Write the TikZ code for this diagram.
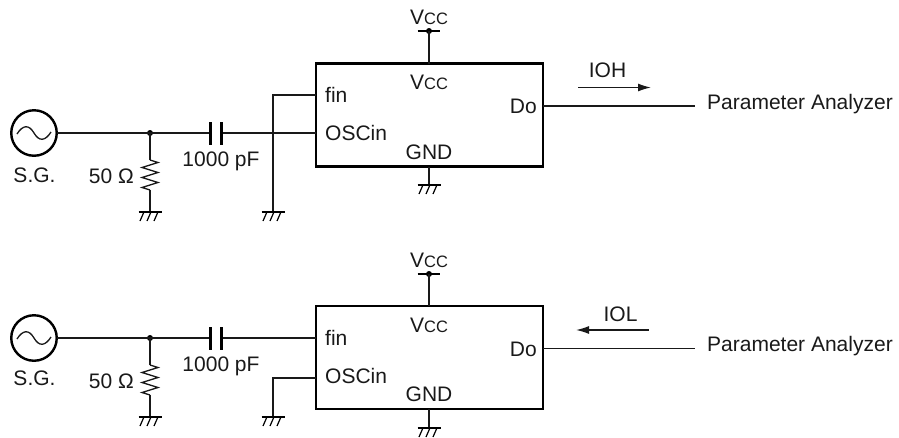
\documentclass[tikz,border=0pt]{standalone}
\usepackage{fontspec}
\setmainfont{Liberation Sans}
\usetikzlibrary{arrows.meta}
\tikzset{
  wire/.style={line width=1.3pt,black!90},
  chip/.style={draw,line width=2.4pt,minimum width=227pt,minimum height=103pt,inner sep=0pt,outer sep=0pt},
  source/.style={circle,draw,line width=2.4pt,minimum size=45.5pt,inner sep=0pt,outer sep=0pt},
  dotj/.style={circle,fill,minimum size=6pt,inner sep=0pt},
  lbl/.style={font=\fontsize{21}{21}\selectfont,inner sep=0pt,text=black!90},
  flow/.style={wire,-{Latex[length=13pt,width=8pt]}},
  plate/.style={line width=2.4pt},
}
\newcommand{\vccText}{V{\fontsize{16.5}{16.5}\selectfont CC}}
\newcommand{\gndsym}[1]{%
  \draw[line width=2pt] ([xshift=-11.5pt]#1) -- ([xshift=11.5pt]#1);
  \foreach \dx in {-6.5,0.5,7.5}
    \draw[line width=1.2pt] ([xshift=\dx pt,yshift=-1pt]#1) -- ([xshift={\dx pt-3.5pt},yshift=-9pt]#1);
}
\newcommand{\resistor}[2]{%
  \draw[wire,line join=miter] (#1) -- ++(8,-2.5) -- ++(-16,-5) -- ++(16,-5) -- ++(-16,-5) -- ++(16,-5) -- ++(-16,-5) -- ++(8,-2.5) -- (#2);
}
\newcommand{\wave}[1]{%
  \draw[wire] ([xshift=-17pt,yshift=-1pt]#1) .. controls ([xshift=-11pt,yshift=8.5pt]#1) and ([xshift=-5pt,yshift=8.5pt]#1) .. (#1)
     .. controls ([xshift=5pt,yshift=-8.5pt]#1) and ([xshift=11pt,yshift=-8.5pt]#1) .. ([xshift=17pt,yshift=1pt]#1);
}
\begin{document}
\begin{tikzpicture}[x=1pt,y=1pt]
\useasboundingbox (0,0) rectangle (899,-437);
% ---------- top ----------
\node[source] (sgA) at (34,-133) {};
\wave{sgA.center}
\node[lbl] (sgAl) at (34.5,-175.5) {S.G.};
\coordinate (jA) at (150,-133);
\node[dotj] (jAd) at (jA) {};
\coordinate (c1A) at (210.5,-133);
\coordinate (c2A) at (221.5,-133);
\node[chip,anchor=north west] (chipA) at (316,-63.5) {};
\coordinate (finA) at (316,-95);
\coordinate (oscA) at (316,-133);
\coordinate (doA) at (543,-106);
\coordinate (endA) at (695,-106);
\draw[wire] (sgA) -- (jA) -- (c1A);
\draw[wire] (c2A) -- (oscA);
\draw[plate] (210.5,-122) -- (210.5,-145);
\draw[plate] (221.5,-122) -- (221.5,-145);
\coordinate (r1A) at (150,-160);
\coordinate (r2A) at (150,-190);
\coordinate (gA) at (150,-212);
\draw[wire] (jA) -- (r1A);
\resistor{r1A}{r2A}
\draw[wire] (r2A) -- (gA);
\gndsym{gA}
\coordinate (g2A) at (273,-212);
\draw[wire] (finA) -- (273,-95) -- (g2A);
\gndsym{g2A}
\node[lbl] at (221,-161) (capAl) {1000 pF};
\node[lbl,anchor=east] (rAl) at (134,-176.5) {50 \char"03A9};
\node[lbl,anchor=west] (finAl) at (325,-95) {fin};
\node[lbl,anchor=west] (oscAl) at (325,-132.5) {OSCin};
\node[lbl,anchor=east] (doAl) at (537,-106) {Do};
\node[lbl] (gndAl) at (429,-152) {GND};
\node[lbl] (vccAin) at (429,-82) {\vccText};
\node[lbl] (vccAout) at (429,-17) {\vccText};
\coordinate (vA) at (429,-31);
\draw[line width=2pt] (417.5,-31) -- (439.5,-31);
\node[dotj] (vAd) at (vA) {};
\draw[wire] (vA) -- (chipA.north -| vA);
\coordinate (g3A) at (429,-185);
\draw[wire] (chipA.south -| g3A) -- (g3A);
\gndsym{g3A}
\draw[wire] (doA) -- (endA);
\node[lbl,anchor=west] (paA) at (707,-104) {Parameter Analyzer};
\node[lbl] (ioh) at (607.5,-70.5) {IOH};
\coordinate (a1) at (578,-87.5);
\coordinate (a2) at (651,-87.5);
\draw[flow] (a1) -- (a2);
% ---------- bottom ----------
\node[source] (sgB) at (34,-338) {};
\wave{sgB.center}
\node[lbl] (sgBl) at (34.5,-378) {S.G.};
\coordinate (jB) at (150,-338);
\node[dotj] (jBd) at (jB) {};
\coordinate (c1B) at (210.5,-338);
\coordinate (c2B) at (221.5,-338);
\node[chip,anchor=north west] (chipB) at (316,-306) {};
\coordinate (finB) at (316,-338);
\coordinate (oscB) at (316,-378);
\coordinate (doB) at (543,-348.5);
\coordinate (endB) at (695,-348.5);
\draw[wire] (sgB) -- (jB) -- (c1B);
\draw[wire] (c2B) -- (finB);
\draw[plate] (210.5,-327) -- (210.5,-350);
\draw[plate] (221.5,-327) -- (221.5,-350);
\coordinate (r1B) at (150,-365);
\coordinate (r2B) at (150,-395);
\coordinate (gB) at (150,-417);
\draw[wire] (jB) -- (r1B);
\resistor{r1B}{r2B}
\draw[wire] (r2B) -- (gB);
\gndsym{gB}
\coordinate (g2B) at (273,-417);
\draw[wire] (oscB) -- (273,-378) -- (g2B);
\gndsym{g2B}
\node[lbl] (capBl) at (221,-366) {1000 pF};
\node[lbl,anchor=east] (rBl) at (134,-381.5) {50 \char"03A9};
\node[lbl,anchor=west] (finBl) at (325,-338) {fin};
\node[lbl,anchor=west] (oscBl) at (325,-376) {OSCin};
\node[lbl,anchor=east] (doBl) at (537,-349) {Do};
\node[lbl] (gndBl) at (429,-394.5) {GND};
\node[lbl] (vccBin) at (429,-325) {\vccText};
\node[lbl] (vccBout) at (429,-260) {\vccText};
\coordinate (vB) at (429,-274);
\draw[line width=2pt] (417.5,-274) -- (439.5,-274);
\node[dotj] (vBd) at (vB) {};
\draw[wire] (vB) -- (chipB.north -| vB);
\coordinate (g3B) at (429,-428);
\draw[wire] (chipB.south -| g3B) -- (g3B);
\gndsym{g3B}
\draw[wire] (doB) -- (endB);
\node[lbl,anchor=west] (paB) at (707,-346) {Parameter Analyzer};
\node[lbl] (iol) at (620.5,-314) {IOL};
\coordinate (b1) at (648.5,-330);
\coordinate (b2) at (576,-330);
\draw[flow] (b1) -- (b2);
\end{tikzpicture}
\end{document}
